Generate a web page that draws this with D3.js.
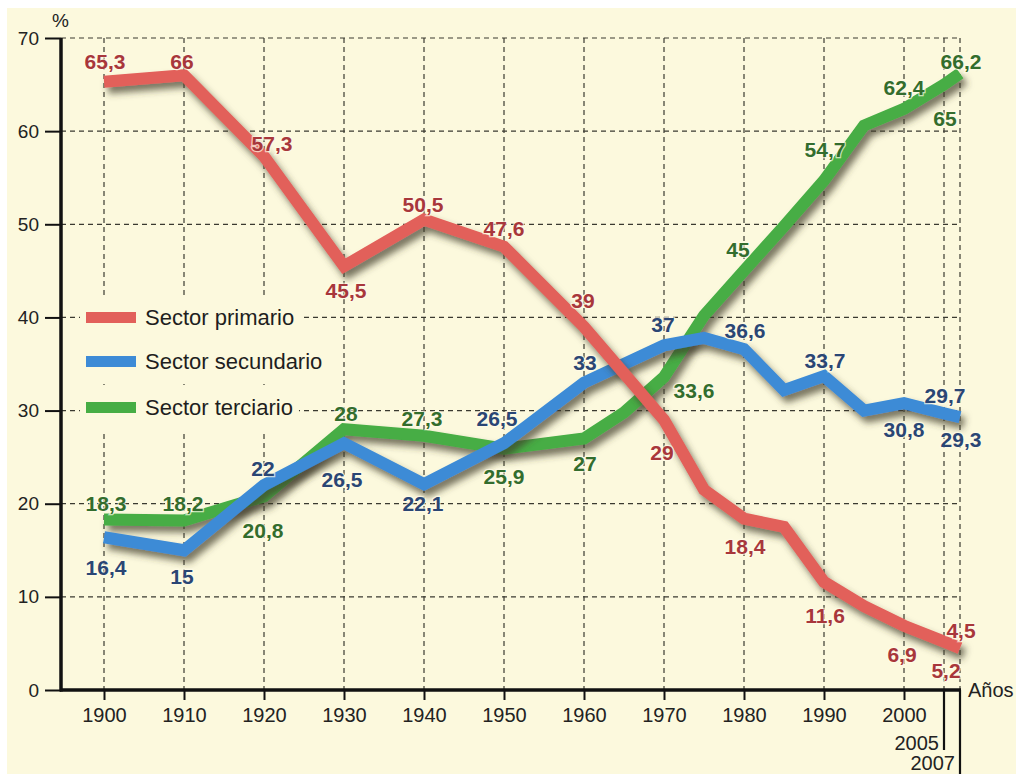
<!DOCTYPE html>
<html><head><meta charset="utf-8">
<script src="https://cdn.jsdelivr.net/npm/d3@7"></script>
<style>
html,body{margin:0;padding:0;background:#ffffff;}
svg{display:block;}
text{font-family:"Liberation Sans",Arial,Helvetica,sans-serif;}
</style></head>
<body>
<svg id="chart" width="1016" height="774"></svg>
<script>
// ---------------- DATA ----------------
const xTicks = [1900,1910,1920,1930,1940,1950,1960,1970,1980,1990,2000];
const xExtraTicks = [2005, 2007];
const yTicks = [0,10,20,30,40,50,60,70];

const seriesNames = ["Sector primario","Sector secundario","Sector terciario"];

const primYears  = [1900,1910,1920,1930,1940,1950,1960,1970,1975,1980,1985,1990,1995,2000,2005,2007];
const primValues = [65.3,66,57.3,45.5,50.5,47.6,39,29,21.5,18.4,17.5,11.6,9,6.9,5.2,4.5];
const primLabels = ["65,3","66","57,3","45,5","50,5","47,6","39","29",null,"18,4",null,"11,6",null,"6,9","5,2","4,5"];

const secYears  = [1900,1910,1920,1930,1940,1950,1960,1970,1975,1980,1985,1990,1995,2000,2005,2007];
const secValues = [16.4,15,22,26.5,22.1,26.5,33,37,37.8,36.6,32.2,33.7,30,30.8,29.7,29.3];
const secLabels = ["16,4","15","22","26,5","22,1","26,5","33","37",null,"36,6",null,"33,7",null,"30,8","29,7","29,3"];

const terYears  = [1900,1910,1920,1930,1940,1950,1960,1965,1970,1975,1980,1985,1990,1995,2000,2005,2007];
const terValues = [18.3,18.2,20.8,28,27.3,25.9,27,29.8,33.6,40.2,45,49.8,54.7,60.6,62.4,65,66.2];
const terLabels = ["18,3","18,2","20,8","28","27,3","25,9","27",null,"33,6",null,"45",null,"54,7",null,"62,4","65","66,2"];

// ---------------- STYLE / PLACEMENT ----------------
const lineColors  = ["#e2605a","#3d8bd6","#46ad44"];
const labelColors = ["#a8373b","#2a4674","#336d2d"];
// label offsets (dx, dy) from the point, per series, for labelled points
const labelOffsets = [
  {1900:[1,-20],1910:[-2,-14],1920:[8,-13],1930:[2,24],1940:[-1,-15],1950:[0,-18],1960:[-1,-26],1970:[-2,33],1980:[1,28],1990:[1,33],2000:[-2,29],2005:[2,29],2007:[1,-18]},
  {1900:[2,30],1910:[-2,26],1920:[-1,-17],1930:[-2,36],1940:[-1,19],1950:[-7,-25],1960:[1,-20],1970:[-1,-21],1980:[1,-19],1990:[1,-16],2000:[0,26],2005:[1,-18],2007:[1,22]},
  {1900:[2,-16],1910:[-1,-17],1920:[-1,34],1930:[2,-16],1940:[-2,-17],1950:[0,28],1960:[1,25],1970:[30,13],1980:[-6,-21],1990:[1,-31],2000:[0,-21],2005:[1,34],2007:[1,-12]}
];

const W = 1016, H = 774;
const svg = d3.select("#chart");

const defs = svg.append("defs");
const f = defs.append("filter").attr("id","shadow").attr("x","-10%").attr("y","-10%").attr("width","130%").attr("height","130%");
f.append("feDropShadow").attr("dx",4).attr("dy",6).attr("stdDeviation",3.5)
  .attr("flood-color","#3f3c28").attr("flood-opacity",0.7);

// background
svg.append("rect").attr("x",0).attr("y",0).attr("width",W).attr("height",H).attr("fill","#ffffff");
svg.append("rect").attr("x",7).attr("y",8).attr("width",W-7).attr("height",H-8).attr("fill","#fcf9dd");

const x = d3.scaleLinear().domain([1900,2007]).range([104,960]);
const y = d3.scaleLinear().domain([0,70]).range([690,38]);
const axisX0 = 61;

// grid
const grid = svg.append("g").attr("stroke","#3a3a30").attr("stroke-width",1.2).attr("stroke-dasharray","5,4").attr("fill","none");
yTicks.filter(v=>v>0).forEach(v=>{
  grid.append("line").attr("x1",axisX0).attr("x2",x(2007)).attr("y1",y(v)).attr("y2",y(v));
});
xTicks.concat(xExtraTicks).forEach(v=>{
  grid.append("line").attr("x1",x(v)).attr("x2",x(v)).attr("y1",y(70)).attr("y2",y(0));
});

// legend background (covers grid)
const legend = svg.append("g");
const legendY = [317,361,407];
seriesNames.forEach((name,i)=>{
  const t = legend.append("text").attr("x",145).attr("y",legendY[i]).attr("dy","0.36em")
    .attr("font-size",22).attr("fill","#1e1e1e").text(name);
  const w = t.node().getComputedTextLength();
  legend.insert("rect","text").attr("x",80).attr("y",legendY[i]-22).attr("width",145+w+6-80).attr("height",45)
    .attr("fill","#fcf9dd");
  legend.append("rect").attr("x",86).attr("y",legendY[i]-5).attr("width",50).attr("height",11).attr("fill",lineColors[i]);
});

// axes
const yAxis = d3.axisLeft(y).tickValues(yTicks).tickSize(16).tickPadding(6).tickFormat(d=>d);
const gy = svg.append("g").attr("transform",`translate(${axisX0},0)`).call(yAxis);
gy.select(".domain").remove();
gy.selectAll(".tick line").attr("stroke","#111").attr("stroke-width",2);
gy.selectAll(".tick text").attr("font-size",19).attr("fill","#222").attr("font-family","Liberation Sans, Arial, sans-serif");

const xAxis = d3.axisBottom(x).tickValues(xTicks).tickSize(10).tickPadding(8).tickFormat(d=>d);
const gx = svg.append("g").attr("transform",`translate(0,${y(0)})`).call(xAxis);
gx.select(".domain").remove();
gx.selectAll(".tick line").attr("stroke","#111").attr("stroke-width",2);
gx.selectAll(".tick text").attr("font-size",20).attr("fill","#222").attr("font-family","Liberation Sans, Arial, sans-serif");

// axis lines
svg.append("line").attr("x1",axisX0).attr("x2",axisX0).attr("y1",y(70)).attr("y2",y(0)+1.5).attr("stroke","#111").attr("stroke-width",3.5);
svg.append("line").attr("x1",axisX0-1).attr("x2",x(2007)+1).attr("y1",y(0)).attr("y2",y(0)).attr("stroke","#111").attr("stroke-width",3.5);

// 2005 / 2007 extra ticks
svg.append("line").attr("x1",x(2005)).attr("x2",x(2005)).attr("y1",y(0)).attr("y2",750).attr("stroke","#111").attr("stroke-width",2.2);
svg.append("line").attr("x1",x(2007)).attr("x2",x(2007)).attr("y1",y(0)).attr("y2",H).attr("stroke","#111").attr("stroke-width",2.2);
svg.append("text").attr("x",x(2005)-5).attr("y",743).attr("dy","0.36em").attr("text-anchor","end")
  .attr("font-size",20).attr("fill","#222").text(xExtraTicks[0]);
svg.append("text").attr("x",x(2007)-5).attr("y",763).attr("dy","0.36em").attr("text-anchor","end")
  .attr("font-size",20).attr("fill","#222").text(xExtraTicks[1]);

// axis titles
svg.append("text").attr("x",52).attr("y",20).attr("dy","0.36em").attr("font-size",19).attr("fill","#222").text("%");
svg.append("text").attr("x",968).attr("y",y(0)).attr("dy","0.36em").attr("font-size",20).attr("fill","#222").text("Años");

// lines
const series = [
  {years:primYears, values:primValues, labels:primLabels},
  {years:secYears,  values:secValues,  labels:secLabels},
  {years:terYears,  values:terValues,  labels:terLabels}
];
const line = d3.line().x(d=>x(d[0])).y(d=>y(d[1]));
const drawOrder = [2,1,0];
const lg = svg.append("g");
drawOrder.forEach(i=>{
  const s = series[i];
  const pts = s.years.map((yr,k)=>[yr,s.values[k]]);
  lg.append("path").datum(pts).attr("d",line).attr("fill","none")
    .attr("stroke",lineColors[i]).attr("stroke-width",12)
    .attr("stroke-linejoin","miter").attr("stroke-miterlimit",3).attr("stroke-linecap","butt")
    .attr("filter","url(#shadow)");
});

// value labels
const labG = svg.append("g");
series.forEach((s,i)=>{
  s.years.forEach((yr,k)=>{
    const lab = s.labels[k];
    if(!lab) return;
    const off = labelOffsets[i][yr] || [0,-18];
    labG.append("text")
      .attr("x",x(yr)+off[0]).attr("y",y(s.values[k])+off[1]).attr("dy","0.36em")
      .attr("text-anchor","middle")
      .attr("font-family","'Liberation Sans Narrow','Arial Narrow','Liberation Sans',Arial,sans-serif")
      .attr("font-weight","bold").attr("font-size",21)
      .attr("fill",labelColors[i])
      .attr("stroke","#fffbe8").attr("stroke-width",2.5).attr("paint-order","stroke")
      .attr("stroke-opacity",0.7)
      .text(lab);
  });
});
</script>
</body></html>
